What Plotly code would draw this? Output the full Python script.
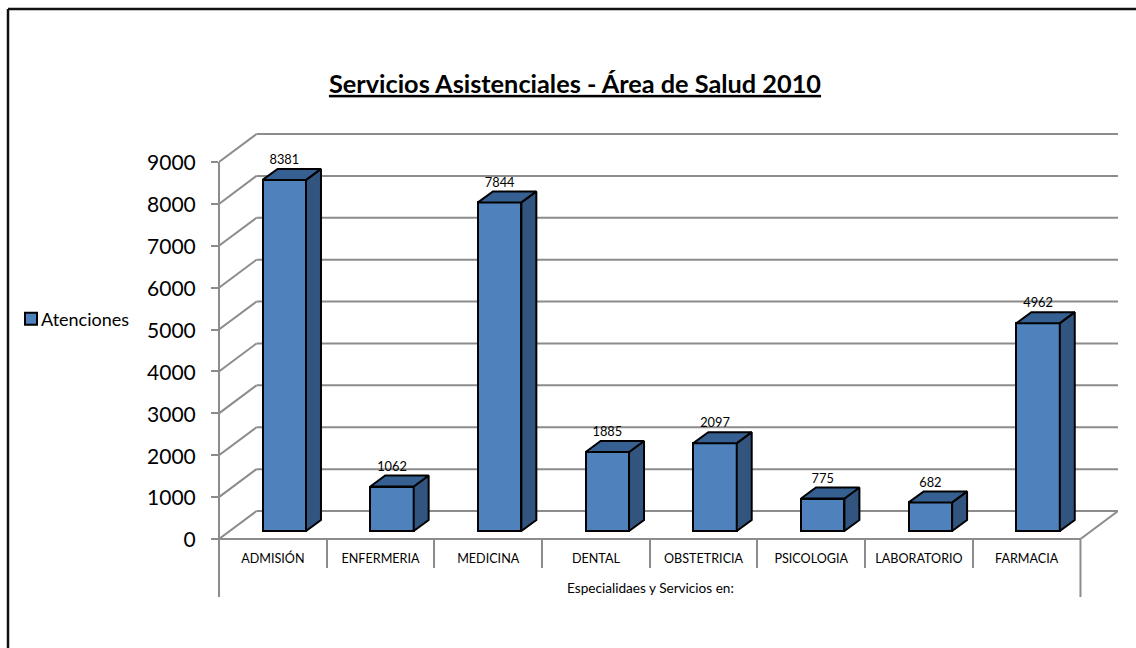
import plotly.graph_objects as go

categories = ["ADMISIÓN", "ENFERMERIA", "MEDICINA", "DENTAL", "OBSTETRICIA", "PSICOLOGIA", "LABORATORIO", "FARMACIA"]
values = [8381, 1062, 7844, 1885, 2097, 775, 682, 4962]
y_ticks = [0, 1000, 2000, 3000, 4000, 5000, 6000, 7000, 8000, 9000]

W, H = 1136, 648
L, R, T, B = 219, 18, 132, 109
FONT = "Lato"
GREY = "#8c8c8c"
FRONT, SIDE, TOP = "#4f81bd", "#32557f", "#376092"

# depth of the pseudo-3D projection in data units
wall_dx, wall_dy = 0.3485, 668
y_max = 9716
base = 191
bar_left, bar_w = 0.405, 0.403
bar_dx, bar_dy = 0.139, 263
n = len(categories)
x_max = n + wall_dx

def px(x):
    return (x - L) / (W - L - R)

def py(y):
    return (H - B - y) / (H - T - B)

fig = go.Figure()

centers = [i + bar_left + bar_w / 2 for i in range(n)]
fig.add_trace(go.Bar(
    x=centers, y=values, base=base, width=bar_w, name="Atenciones",
    marker=dict(color=FRONT, line=dict(color="black", width=2)),
    showlegend=True, hoverinfo="skip",
))

for c, v in zip(centers, values):
    x0, x1 = c - bar_w / 2, c + bar_w / 2
    y0, y1 = base, base + v
    fig.add_trace(go.Scatter(
        x=[x1, x1 + bar_dx, x1 + bar_dx, x1, x1],
        y=[y0, y0 + bar_dy, y1 + bar_dy, y1, y0],
        mode="lines", fill="toself", fillcolor=SIDE,
        line=dict(color="black", width=2), showlegend=False, hoverinfo="skip"))
    fig.add_trace(go.Scatter(
        x=[x0, x0 + bar_dx, x1 + bar_dx, x1, x0],
        y=[y1, y1 + bar_dy, y1 + bar_dy, y1, y1],
        mode="lines", fill="toself", fillcolor=TOP,
        line=dict(color="black", width=2), showlegend=False, hoverinfo="skip"))

fig.add_trace(go.Scatter(
    x=centers, y=[base + v + bar_dy + 40 for v in values],
    text=[str(v) for v in values], mode="text", textposition="top center",
    textfont=dict(family=FONT, size=12.8, color="black"),
    showlegend=False, hoverinfo="skip", cliponaxis=False))

shapes = []
def seg(x0, y0, x1, y1):
    shapes.append(dict(type="line", xref="x", yref="y", x0=x0, y0=y0, x1=x1, y1=y1,
                       layer="below", line=dict(color=GREY, width=2)))

def pseg(x0, y0, x1, y1, color=GREY, width=2):
    shapes.append(dict(type="line", xref="paper", yref="paper", x0=x0, y0=y0, x1=x1, y1=y1,
                       layer="below", line=dict(color=color, width=width)))

for v in y_ticks:
    seg(0, v, wall_dx, v + wall_dy)
    seg(wall_dx, v + wall_dy, x_max, v + wall_dy)
seg(n, 0, x_max, wall_dy)

# front axis lines, which sit on the edge of the plot area
pseg(0, 0, 0, y_ticks[-1] / y_max)
pseg(0, 0, n / x_max, 0)
pseg(0, 0, 0, py(597))
pseg(n / x_max, 0, n / x_max, py(597))

# outer chart frame
pseg(px(8), py(9), 1.03, py(9), "#111111", 2.5)
pseg(px(8), py(9), px(8), py(H), "#111111", 2.5)

fig.update_layout(
    width=W, height=H, autosize=False,
    margin=dict(l=L, r=R, t=T, b=B, pad=0, autoexpand=False),
    paper_bgcolor="white", plot_bgcolor="white",
    font=dict(family=FONT, color="black"),
    title=dict(text="<b><u>Servicios Asistenciales - Área de Salud 2010</u></b>",
               x=575 / W, xanchor="center", y=1 - 84 / H, yanchor="middle",
               font=dict(family=FONT, size=25.3, color="black")),
    showlegend=True,
    legend=dict(x=px(1), xanchor="left", y=py(319), yanchor="middle",
                font=dict(family=FONT, size=18, color="black"),
                itemwidth=30, bgcolor="rgba(0,0,0,0)"),
    shapes=shapes,
    annotations=[dict(text="Especialidaes y Servicios en:", xref="paper", yref="paper",
                      x=px(650), y=py(588), xanchor="center", yanchor="middle", showarrow=False,
                      font=dict(family=FONT, size=13.6, color="black"))],
    bargap=0,
    xaxis=dict(
        range=[0, x_max], showgrid=False, zeroline=False, showline=False,
        tickmode="array", tickvals=[i + 0.5 for i in range(n)], ticktext=categories,
        ticks="outside", ticklen=8, tickcolor="rgba(0,0,0,0)", tickwidth=1,
        tickfont=dict(family=FONT, size=12.6, color="black"), tickangle=0,
        minor=dict(tickmode="array", tickvals=list(range(1, n)), ticks="outside",
                   ticklen=28, tickcolor=GREY, tickwidth=2, showgrid=False),
    ),
    yaxis=dict(
        range=[0, y_max], showgrid=False, zeroline=False, showline=False,
        tickmode="array", tickvals=y_ticks, ticktext=[str(v) for v in y_ticks],
        ticks="outside", ticklen=7, tickcolor=GREY, tickwidth=2,
        ticklabelstandoff=11, ticklabelshift=1,
        tickfont=dict(family=FONT, size=21, color="black"),
    ),
)

fig.write_html(
    "out.html",
    config={"displayModeBar": False},
    post_script=("document.body.style.margin='0';document.body.style.overflow='hidden';"
                 "document.querySelectorAll('.legend .legendsymbols').forEach("
                 "function(e){e.setAttribute('transform','translate(10,0)');});"),
)
